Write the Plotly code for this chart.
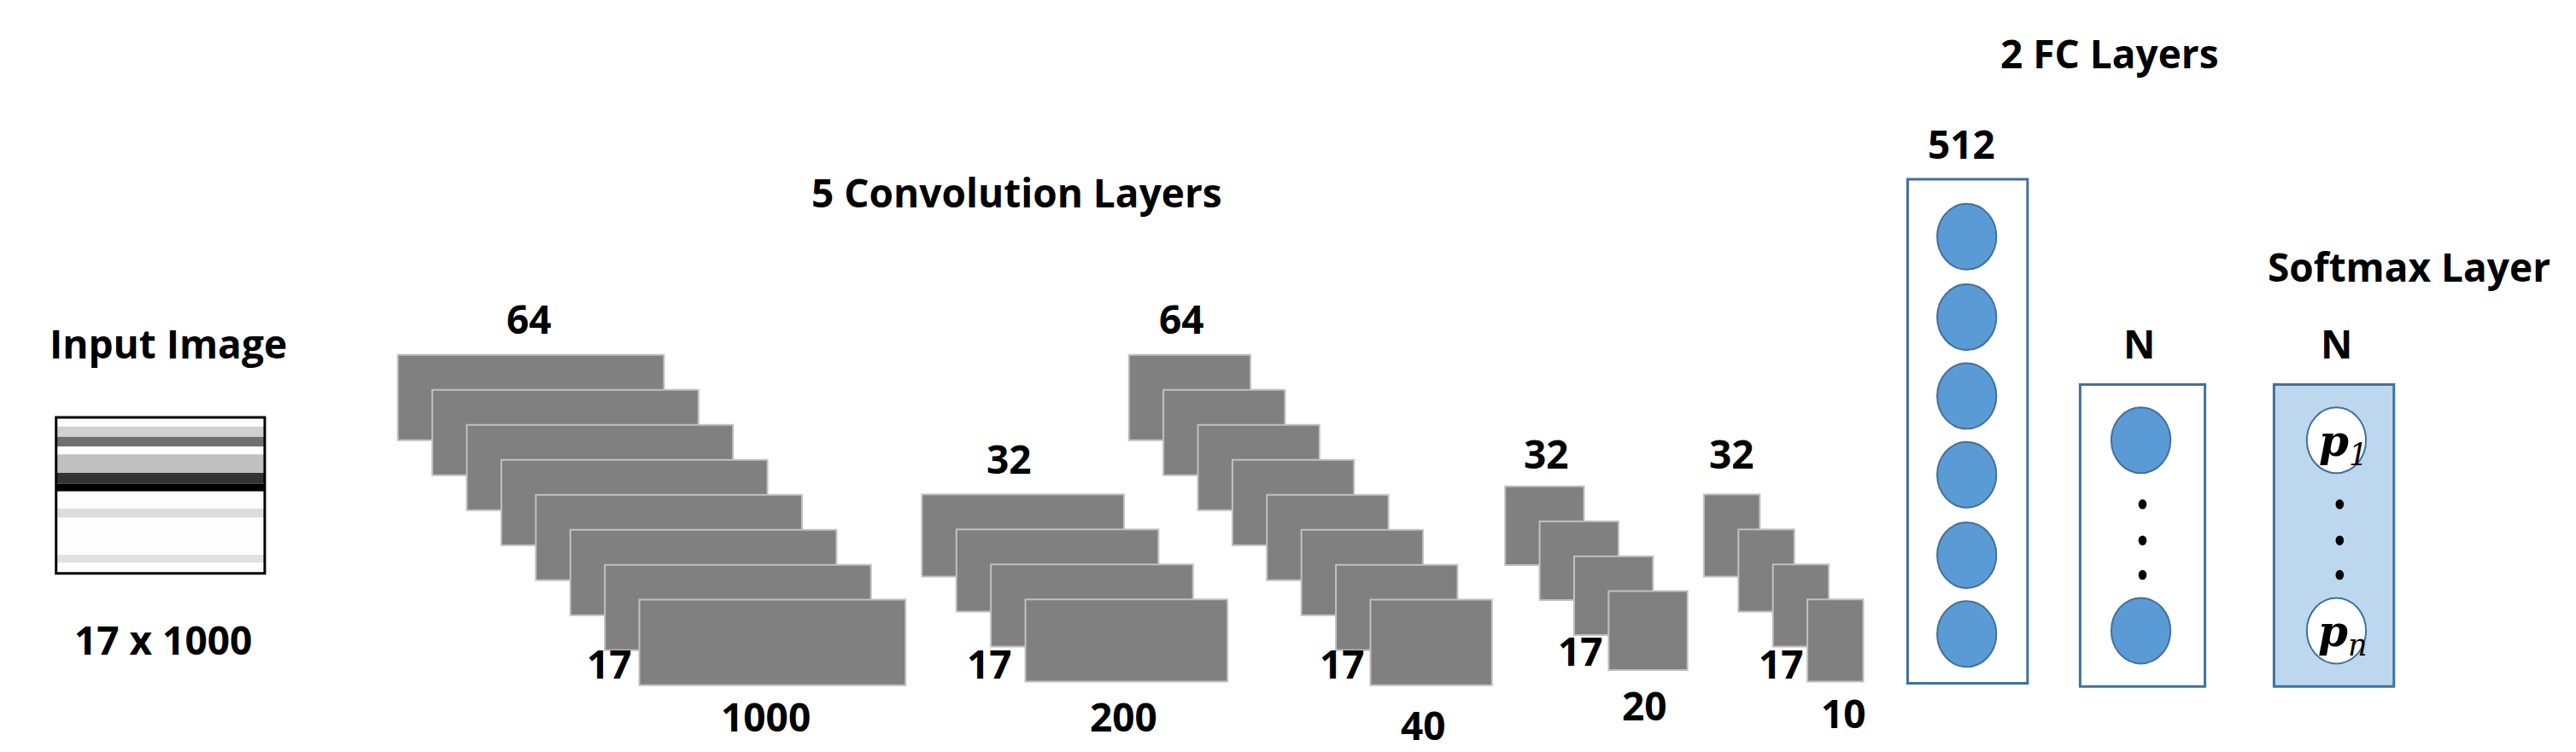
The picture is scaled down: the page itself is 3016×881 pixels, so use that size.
import plotly.graph_objects as go

# ---- data ----
conv_counts = [8, 4, 8, 4, 4]
conv_depth_labels = ["64", "32", "64", "32", "32"]
conv_height_labels = ["17", "17", "17", "17", "17"]
conv_width_labels = ["1000", "200", "40", "20", "10"]
fc_sizes_labels = ["512", "N"]
softmax_label = "N"
input_stripes_gray = [255, 208, 112, 255, 192, 51, 0, 253, 220, 253, 225, 253]
input_stripes_bounds = [45, 75, 108, 140, 165, 225, 260, 285, 340, 370, 490, 515, 550]

# ---- geometry (display coords, y downward) ----
W, H = 1568, 458
conv_first = [(238, 212, 162, 52), (557, 297, 123, 50), (683, 212, 74, 52),
              (912, 292, 48, 48), (1033, 297, 34, 50)]
step = (21, 21.3)
depth_pos = [(318, 190), (610, 275), (715, 190), (937, 272), (1050, 272)]
height_pos = [(367, 400), (598, 400), (813, 400), (958, 392), (1080, 400)]
width_pos = [(462, 432), (680, 432), (862, 437), (997, 425), (1118, 430)]

shapes, ann = [], []
FS = 46

def text(x, y, s, size=FS, fam="Open Sans"):
    ann.append(dict(x=x, y=y, text="<b>%s</b>" % s, showarrow=False,
                    font=dict(family=fam, size=size, color="black"),
                    xanchor="center", yanchor="middle"))

# input image
bx0, bx1, by0, by1 = 30, 157, 250, 345
sc = (by1 - by0) / (input_stripes_bounds[-1] - input_stripes_bounds[0])
for i, g in enumerate(input_stripes_gray):
    y0 = by0 + (input_stripes_bounds[i] - input_stripes_bounds[0]) * sc
    y1 = by0 + (input_stripes_bounds[i + 1] - input_stripes_bounds[0]) * sc
    shapes.append(dict(type="rect", x0=bx0, x1=bx1, y0=y0, y1=y1,
                       fillcolor="rgb(%d,%d,%d)" % (g, g, g), line=dict(width=0)))
shapes.append(dict(type="rect", x0=bx0, x1=bx1, y0=by0, y1=by1,
                   line=dict(color="black", width=3)))
text(98, 205, "Input Image")
text(95, 385, "17 x 1000")

# conv stacks
for k, n in enumerate(conv_counts):
    x0, y0, w, h = conv_first[k]
    for i in range(n):
        xx, yy = x0 + i * step[0], y0 + i * step[1]
        shapes.append(dict(type="rect", x0=xx, x1=xx + w, y0=yy, y1=yy + h,
                           fillcolor="#808080", line=dict(color="#c0c0c0", width=2)))
    text(*depth_pos[k], conv_depth_labels[k])
    text(*height_pos[k], conv_height_labels[k])
    text(*width_pos[k], conv_width_labels[k])
text(615, 113, "5 Convolution Layers")

# FC layers
BL, CB = "#41719c", "#5b9bd5"
def circle(cx, cy, fill, r=(18, 20)):
    shapes.append(dict(type="circle", x0=cx - r[0], x1=cx + r[0], y0=cy - r[1], y1=cy + r[1],
                       fillcolor=fill, line=dict(color=BL, width=2)))

shapes.append(dict(type="rect", x0=1157, x1=1230, y0=105, y1=412, line=dict(color=BL, width=3)))
for cy in [140, 189, 237, 285, 334, 382]:
    circle(1193, cy, CB)
text(1190, 83, fc_sizes_labels[0])
text(1280, 28, "2 FC Layers")

shapes.append(dict(type="rect", x0=1262, x1=1338, y0=230, y1=414, line=dict(color=BL, width=3)))
for cy in [264, 380]:
    circle(1299, cy, CB)
text(1298, 205, fc_sizes_labels[1])

shapes.append(dict(type="rect", x0=1380, x1=1453, y0=230, y1=414, fillcolor="#bdd7ee",
                   line=dict(color=BL, width=3)))
for cy in [264, 380]:
    circle(1418, cy, "white")
text(1418, 205, softmax_label)
text(1462, 158, "Softmax Layer")

for xc in [1300, 1420]:
    for cy in [303, 325, 346]:
        shapes.append(dict(type="circle", x0=xc - 2.5, x1=xc + 2.5, y0=cy - 3, y1=cy + 3,
                           fillcolor="black", line=dict(width=0)))

for cy, sub in [(264, "1"), (380, "n")]:
    ann.append(dict(x=1422, y=cy + 2, text="<b><i>p</i></b><i><sub>%s</sub></i>" % sub,
                    showarrow=False, font=dict(family="DejaVu Serif", size=50, color="black"),
                    xanchor="center", yanchor="middle"))

fig = go.Figure()
fig.update_layout(width=3016, height=881, margin=dict(l=0, r=0, t=0, b=0),
                  plot_bgcolor="white", paper_bgcolor="white",
                  xaxis=dict(range=[0, W], visible=False, fixedrange=True),
                  yaxis=dict(range=[H, 0], visible=False, fixedrange=True),
                  shapes=shapes, annotations=ann, showlegend=False)
fig.write_html("out.html")
